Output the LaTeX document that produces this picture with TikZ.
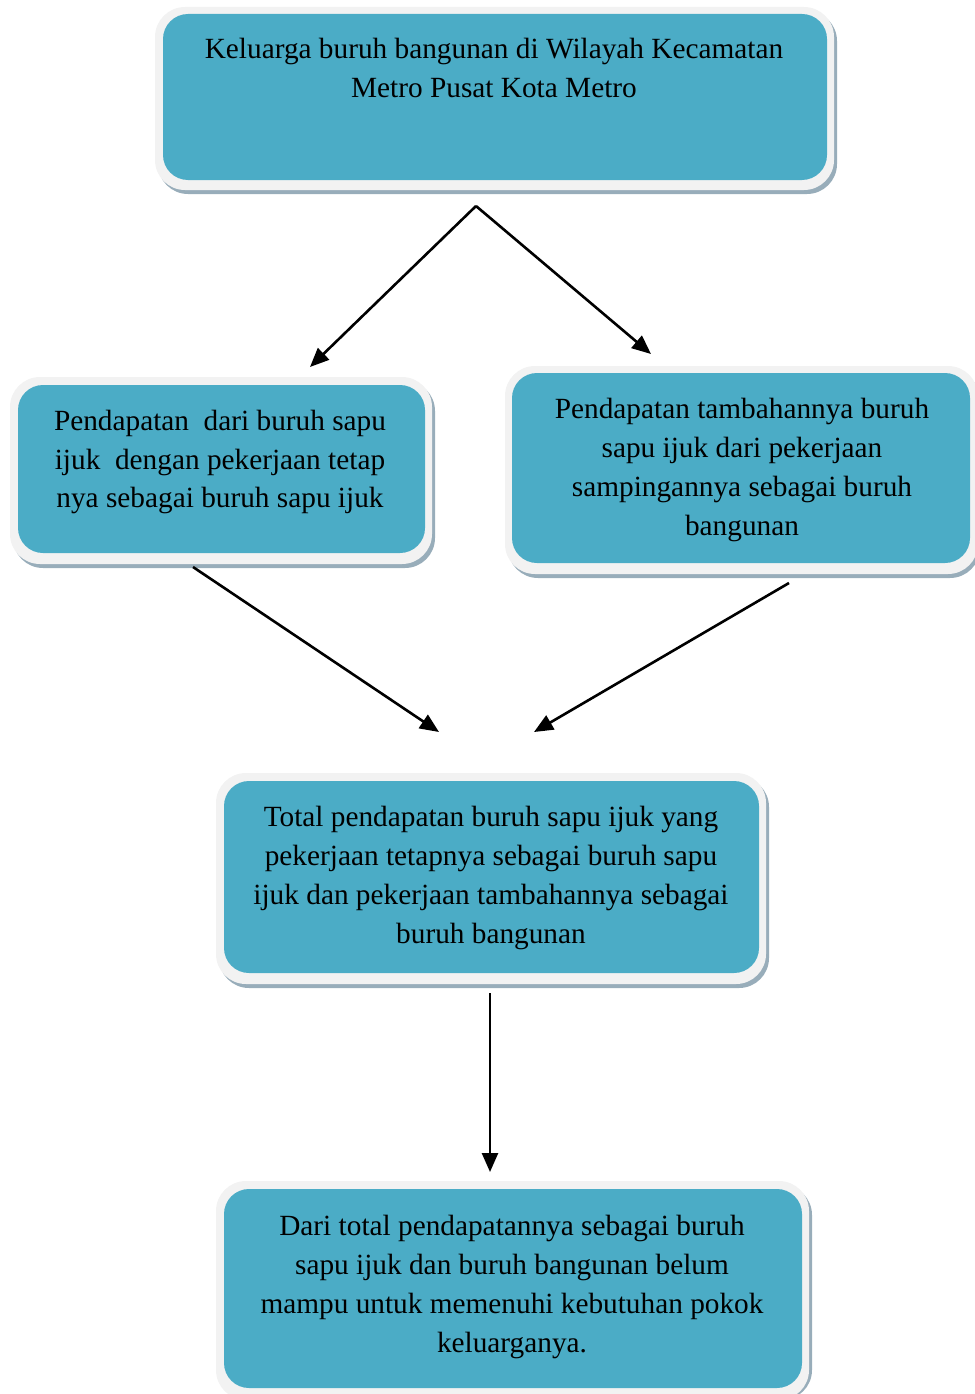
\documentclass[tikz,border=0pt]{standalone}
\usepackage{fontspec}
\setmainfont{Liberation Serif}
\usetikzlibrary{arrows.meta}
\definecolor{tealc}{HTML}{4BACC6}
\definecolor{shellc}{HTML}{F2F2F2}
\definecolor{shadc}{HTML}{98ADBA}
\tikzset{
  shadowbox/.style={fill=shadc, rounded corners=30pt, draw=none},
  shellbox/.style={fill=shellc, rounded corners=30pt, draw=none},
  tealbox/.style={fill=tealc, rounded corners=25pt, draw=none, inner sep=0pt},
  txt/.style={align=center, font=\fontsize{29.3}{38.8}\selectfont, inner sep=0pt, text=black},
  arr/.style={line width=2.6pt, -{Triangle[length=19pt,width=16pt]}},
}
\begin{document}
\begin{tikzpicture}[x=1pt,y=-1pt]
\useasboundingbox (0,0) rectangle (974,1394);
% box 1
\fill[shadowbox] (158,11) rectangle (837,194);
\fill[shellbox] (155,7) rectangle (834,190);
\node[tealbox, minimum width=664pt, minimum height=166pt] (b1) at (495,97) {};
\node[txt, anchor=north] (b1t) at (494,38) {Keluarga buruh bangunan di Wilayah Kecamatan\\Metro Pusat Kota Metro};
% box 2
\fill[shadowbox] (13,381) rectangle (435,568);
\fill[shellbox] (10,377) rectangle (432,564);
\node[tealbox, minimum width=407pt, minimum height=168pt] (b2) at (221.5,469) {};
\node[txt] (b2t) at (220,462) {Pendapatan\ \ dari buruh sapu\\ijuk\ \ dengan pekerjaan tetap\\nya sebagai buruh sapu ijuk};
% box 3
\fill[shadowbox] (508,370) rectangle (980,578);
\fill[shellbox] (505,366) rectangle (978,574);
\node[tealbox, minimum width=458pt, minimum height=190pt] (b3) at (741,468) {};
\node[txt] (b3t) at (742,470) {Pendapatan tambahannya buruh\\sapu ijuk dari pekerjaan\\sampingannya sebagai buruh\\bangunan};
% box 4
\fill[shadowbox] (219,777) rectangle (769,988);
\fill[shellbox] (216,773) rectangle (766,984);
\node[tealbox, minimum width=535pt, minimum height=192pt] (b4) at (491.5,877) {};
\node[txt] (b4t) at (491,878) {Total pendapatan buruh sapu ijuk yang\\pekerjaan tetapnya sebagai buruh sapu\\ijuk dan pekerjaan tambahannya sebagai\\buruh bangunan};
% box 5
\fill[shadowbox] (219,1185) rectangle (812,1400);
\fill[shellbox] (216,1181) rectangle (809,1400);
\node[tealbox, minimum width=578pt, minimum height=199pt] (b5) at (513,1288.5) {};
\node[txt] (b5t) at (512,1287) {Dari total pendapatannya sebagai buruh\\sapu ijuk dan buruh bangunan belum\\mampu untuk memenuhi kebutuhan pokok\\keluarganya.};
% connectors
\coordinate (s1) at (476,206);
\coordinate (e1) at (310,367);
\coordinate (e2) at (651,354);
\coordinate (s3) at (193,567);
\coordinate (e3) at (439,732);
\coordinate (s4) at (789,583);
\coordinate (e4) at (534,732);
\coordinate (s5) at (490,993);
\coordinate (e5) at (490,1172);
\draw[arr] (s1) -- (e1);
\draw[arr] (s1) -- (e2);
\draw[arr] (s3) -- (e3);
\draw[arr] (s4) -- (e4);
\draw[arr] (s5) -- (e5);
\end{tikzpicture}
\end{document}
